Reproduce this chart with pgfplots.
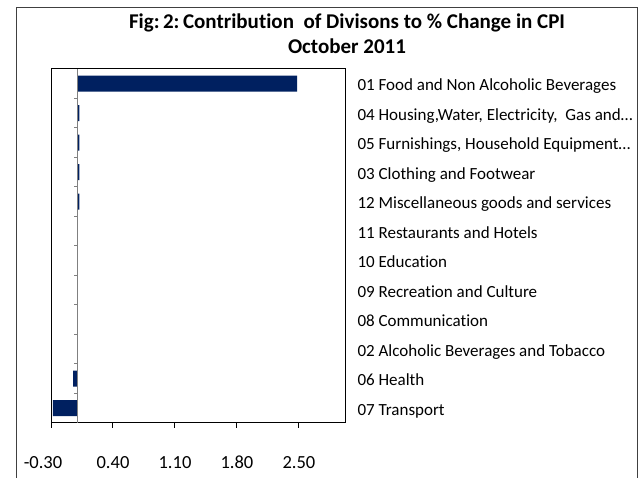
\documentclass[border=0pt]{standalone}
\usepackage{fontspec}
\setmainfont{Carlito}[Ligatures=NoCommon]
\usepackage{pgfplots}
\pgfplotsset{compat=1.18}
\definecolor{navy}{RGB}{0,32,96}
\begin{document}
\begin{tikzpicture}
\useasboundingbox (0pt,0pt) rectangle (639pt,478pt);
\draw[black!75, line width=1pt] (16pt,-10pt) rectangle (637pt,470pt);
\node[font=\bfseries\fontsize{21}{24}\selectfont] at (347pt,455pt) {Fig:\,2:\,Contribution\ \ of Divisons to \% Change in CPI};
\node[font=\bfseries\fontsize{21}{24}\selectfont] at (347pt,432pt) {October 2011};
\begin{axis}[
  at={(51pt,55pt)}, anchor=south west,
  width=294pt, height=354pt, scale only axis,
  xmin=-0.3, xmax=3.02, ymin=-0.5, ymax=11.5,
  axis line style={black, line width=1pt},
  xbar, bar width=16pt,
  xtick={-0.3,0.4,1.1,1.8,2.5},
  xticklabels={{\hspace*{-16pt}-0.30},0.40,1.10,1.80,2.50},
  x tick style={black, line width=1pt},
  xtick pos=bottom, tick align=outside, major tick length=5pt,
  typeset ticklabels with strut,
  xticklabel style={font=\fontsize{18.5}{20}\selectfont, anchor=north, yshift=-23pt},
  ytick={0,...,11},
  yticklabels={07 Transport, 06 Health, 02 Alcoholic Beverages and Tobacco, 08 Communication, 09 Recreation and Culture, 10 Education, 11 Restaurants and Hotels, 12 Miscellaneous goods and services, 03 Clothing and Footwear, {05 Furnishings, Household Equipment…}, {04 Housing,Water, Electricity,\ \ Gas and…}, 01 Food and Non Alcoholic Beverages},
  yticklabel pos=right,
  y tick style={draw=none},
  yticklabel style={font=\fontsize{17}{19}\selectfont, anchor=west, xshift=4pt, yshift=-3pt},
  clip=false,
]
\addplot[fill=navy, draw=none] coordinates {
(-0.28,0) (-0.05,1) (0,2) (0,3) (0,4) (0,5) (0,6) (0.02,7) (0.02,8) (0.02,9) (0.02,10) (2.48,11)
};
\draw[gray, line width=1.5pt] (axis cs:0,-0.5) -- (axis cs:0,11.5);
\pgfplotsinvokeforeach{0,...,10}{\draw[gray, line width=1pt] (axis cs:0,#1+0.5) -- ++(-4pt,0pt);}
\end{axis}
\end{tikzpicture}
\end{document}
